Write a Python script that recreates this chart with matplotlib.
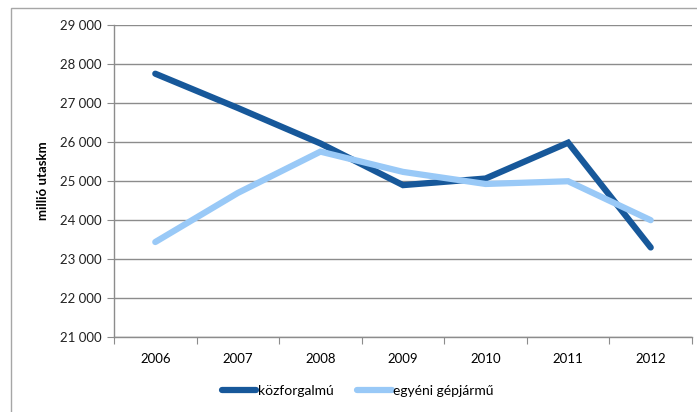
import matplotlib.pyplot as plt
from matplotlib.patches import Rectangle
from matplotlib.ticker import FuncFormatter, FixedLocator, NullFormatter

years = ['2006', '2007', '2008', '2009', '2010', '2011', '2012']
kozforgalmu = [27750, 26870, 25960, 24890, 25060, 25980, 23290]
egyeni = [23430, 24690, 25750, 25230, 24920, 24990, 23990]

DARK = '#17589A'
LIGHT = '#99C9F7'
GRID = '#8C8C8C'

plt.rcParams['font.family'] = ['Lato', 'DejaVu Sans']

fig = plt.figure(figsize=(6.97, 4.12), dpi=100)
W, H = 697, 412

# chart frame
fig.patches.append(Rectangle((11 / W, -0.1), 1.0, (H - 8) / H + 0.1,
                             transform=fig.transFigure, fill=False,
                             edgecolor='#A6A6A6', linewidth=1.0))

ax = fig.add_axes([114 / W, 1 - 336.7 / H, (692 - 114) / W, (336.7 - 25) / H])

x = list(range(len(years)))
ax.plot(x, kozforgalmu, color=DARK, linewidth=4.5, solid_capstyle='round',
        solid_joinstyle='miter', label='közforgalmú')
ax.plot(x, egyeni, color=LIGHT, linewidth=4.5, solid_capstyle='round',
        solid_joinstyle='miter', label='egyéni gépjármű')

ax.set_xlim(-0.5, len(years) - 0.5)
ax.set_ylim(21000, 29000)
ax.set_yticks(range(21000, 29001, 1000))
ax.yaxis.set_major_formatter(FuncFormatter(lambda v, p: f'{int(v):,}'.replace(',', ' ')))
ax.yaxis.grid(True, color=GRID, linewidth=1.0)
ax.set_axisbelow(True)

ax.xaxis.set_major_locator(FixedLocator([i - 0.5 for i in range(len(years) + 1)]))
ax.xaxis.set_major_formatter(NullFormatter())
ax.xaxis.set_minor_locator(FixedLocator(x))
ax.set_xticklabels(years, minor=True)
ax.tick_params(axis='x', which='minor', length=0, pad=12)
ax.tick_params(axis='x', which='major', length=5, color=GRID, direction='out')
ax.tick_params(axis='y', length=5, color=GRID, direction='out', pad=4)
ax.tick_params(labelsize=9.5, labelcolor='#222222')
for lbl in ax.get_xticklabels(minor=True):
    lbl.set_fontsize(9.5)

for side in ('top', 'right'):
    ax.spines[side].set_visible(False)
for side in ('left', 'bottom'):
    ax.spines[side].set_color(GRID)
    ax.spines[side].set_linewidth(1.0)

ax.set_ylabel('millió utaskm', fontsize=9.5, fontweight='bold', labelpad=8)

fig.legend(loc='center', bbox_to_anchor=(0.513, 1 - 391 / H), ncol=2,
           frameon=False, fontsize=10, handlelength=2.5, handletextpad=0.1,
           columnspacing=1.7)

fig.savefig('out.png', dpi=100)
